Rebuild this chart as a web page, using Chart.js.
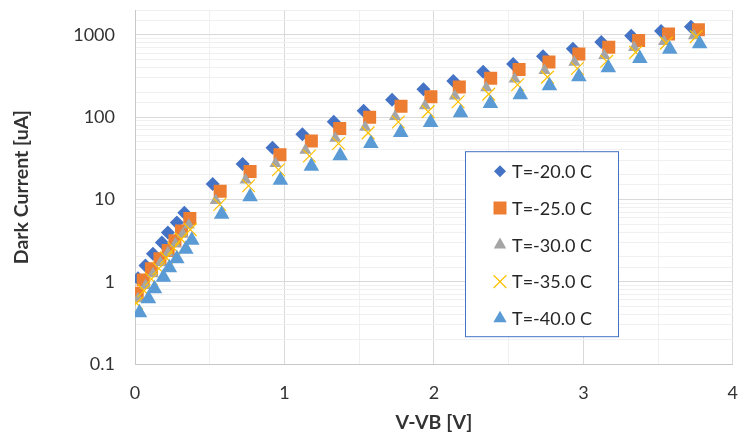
<!DOCTYPE html>
<html>
<head>
<meta charset="utf-8">
<script src="https://cdn.jsdelivr.net/npm/chart.js@4.4.1/dist/chart.umd.min.js"></script>
<style>
  html, body { margin: 0; padding: 0; background: #fff; }
  #wrap { width: 743px; height: 438px; }
</style>
</head>
<body>
<div id="wrap"><canvas id="myChart" width="743" height="438"></canvas></div>
<script>
// dark current vs overvoltage, one series per temperature
const seriesLabels = ["T=-20.0 C", "T=-25.0 C", "T=-30.0 C", "T=-35.0 C", "T=-40.0 C"];

const vbT20 = [0.02, 0.07, 0.12, 0.18, 0.22, 0.28, 0.33,
  0.52, 0.72, 0.92, 1.12, 1.33, 1.53, 1.72, 1.93, 2.13, 2.33, 2.53, 2.73, 2.93, 3.12, 3.32, 3.52, 3.72];
const iT20 = [1.1, 1.58, 2.19, 3.0, 3.98, 5.25, 6.9,
  15.4, 27, 42.6, 62, 88, 120, 163, 219, 275, 358, 445, 550, 680, 820, 980, 1117, 1257];

const vbT25 = [0.015, 0.055, 0.11, 0.167, 0.222, 0.267, 0.311, 0.367,
  0.57, 0.77, 0.97, 1.18, 1.37, 1.57, 1.78, 1.98, 2.17, 2.38, 2.57, 2.77, 2.97, 3.17, 3.37, 3.57, 3.77];
const iT25 = [0.72, 1.05, 1.44, 1.9, 2.4, 3.16, 4.15, 5.87,
  12.6, 21.9, 35, 51.5, 72.8, 100, 136, 177, 233, 297, 380, 470, 585, 710, 855, 1030, 1160];

const vbT30 = [0.02, 0.07, 0.12, 0.17, 0.22, 0.27, 0.32, 0.36,
  0.54, 0.74, 0.94, 1.14, 1.34, 1.54, 1.74, 1.94, 2.14, 2.35, 2.54, 2.74, 2.94, 3.14, 3.34, 3.54, 3.74];
const iT30 = [0.62, 0.9, 1.25, 1.7, 2.25, 2.9, 3.8, 4.9,
  9.7, 17.2, 27.4, 39.7, 55.7, 75.6, 102, 138, 181, 228, 292, 369, 466, 561, 703, 831, 979];

const vbT35 = [0.01, 0.06, 0.11, 0.16, 0.21, 0.26, 0.31, 0.37,
  0.567, 0.76, 0.96, 1.167, 1.362, 1.56, 1.762, 1.962, 2.162, 2.367, 2.56, 2.76, 2.96, 3.156, 3.35, 3.555, 3.755];
const iT35 = [0.55, 0.78, 1.08, 1.45, 1.95, 2.55, 3.3, 4.3,
  8.7, 14.7, 23, 33.8, 48, 64.5, 87.6, 117, 154, 191, 248, 307, 391, 478, 614, 796, 955];

const vbT40 = [0.03, 0.09, 0.13, 0.19, 0.23, 0.28, 0.34, 0.38,
  0.58, 0.77, 0.973, 1.18, 1.373, 1.578, 1.778, 1.978, 2.178, 2.378, 2.578, 2.773, 2.97, 3.167, 3.378, 3.578, 3.778];
const iT40 = [0.42, 0.62, 0.82, 1.13, 1.48, 1.9, 2.48, 3.2,
  6.6, 10.8, 17.1, 25.4, 34.1, 48, 65, 86, 113, 147, 188, 241, 310, 400, 517, 672, 780];

const xTicks = [0, 1, 2, 3, 4];
const yTicks = [0.1, 1, 10, 100, 1000];

const toPoints = (xs, ys) => xs.map((x, i) => ({ x: x, y: ys[i] }));

const FONT = "Lato";
const isDecade = (v) => yTicks.some((t) => Math.abs(v - t) < t * 1e-6);
const legendRadius = [6, 9.2, 7.2, 9, 7.7];

// legend box inside the plot area
const boxLegend = {
  id: "boxLegend",
  afterDatasetsDraw(chart) {
    const ctx = chart.ctx;
    const area = chart.chartArea;
    const left = area.left + 330, top = area.top + 141, w = 153, h = 185;
    ctx.save();
    ctx.fillStyle = "#ffffff";
    ctx.fillRect(left, top, w, h);
    ctx.strokeStyle = "#4472c4";
    ctx.lineWidth = 1;
    ctx.strokeRect(left + 0.5, top + 0.5, w, h);
    ctx.font = "18px " + FONT;
    ctx.textBaseline = "middle";
    chart.data.datasets.forEach((ds, i) => {
      const y = top + 20 + i * 36.8;
      ctx.fillStyle = ds.backgroundColor;
      ctx.strokeStyle = ds.borderColor;
      ctx.lineWidth = ds.borderWidth;
      Chart.helpers.drawPoint(ctx, {
        pointStyle: ds.pointStyle,
        radius: legendRadius[i],
        rotation: 0,
        borderWidth: ds.borderWidth
      }, left + 35, y);
      ctx.fillStyle = "#262626";
      ctx.fillText(ds.label, left + 47, y + 1);
    });
    ctx.restore();
  }
};

const mk = (i, xs, ys, color, style, radius, border) => ({
  label: seriesLabels[i],
  data: toPoints(xs, ys),
  pointStyle: style,
  pointRadius: radius,
  pointHoverRadius: radius,
  backgroundColor: color,
  borderColor: color,
  borderWidth: border,
  order: 5 - i
});

const myChart = new Chart("myChart", {
  type: "scatter",
  data: {
    datasets: [
      mk(0, vbT20, iT20, "#4472c4", "rectRot", 7, 0),
      mk(1, vbT25, iT25, "#ed7d31", "rect", 9.2, 0),
      mk(2, vbT30, iT30, "#a5a5a5", "triangle", 7, 0),
      mk(3, vbT35, iT35, "#ffc000", "crossRot", 9, 1.2),
      mk(4, vbT40, iT40, "#5b9bd5", "triangle", 9, 0)
    ]
  },
  options: {
    responsive: false,
    animation: false,
    layout: { padding: { top: 6, right: 8, left: 0, bottom: 0 } },
    plugins: {
      legend: { display: false },
      tooltip: { enabled: false }
    },
    scales: {
      x: {
        type: "linear",
        min: 0,
        max: 4,
        ticks: {
          stepSize: 0.5,
          padding: 18,
          color: "#333333",
          font: { family: FONT, size: 18 },
          maxRotation: 0,
          callback: (v) => (Number.isInteger(v) ? String(v) : "")
        },
        grid: {
          drawTicks: false,
          color: (c) => (Number.isInteger(c.tick.value) ? "#d9d9d9" : "#f0f0f0")
        },
        border: { color: "#c8c8c8" },
        title: {
          display: true,
          text: "V-VB [V]",
          color: "#333333",
          font: { family: FONT, size: 19.5, weight: "bold" },
          padding: { top: 0, bottom: 3.5 }
        },
        afterFit: (s) => { s.height = 74; s.paddingLeft = 0; s.paddingRight = 0; }
      },
      y: {
        type: "logarithmic",
        min: 0.1,
        max: 2000,
        ticks: {
          padding: 20,
          color: "#333333",
          font: { family: FONT, size: 18 },
          autoSkip: false,
          callback: (v) => (isDecade(v) ? (v < 1 ? v.toFixed(1) : v.toFixed(0)) : "")
        },
        grid: {
          drawTicks: false,
          color: (c) => (isDecade(c.tick.value) ? "#d9d9d9" : "#f0f0f0")
        },
        border: { color: "#c8c8c8" },
        title: {
          display: true,
          text: "Dark Current [uA]",
          color: "#333333",
          font: { family: FONT, size: 19.5, weight: "bold" },
          padding: { top: 10, bottom: 0 }
        },
        afterFit: (s) => { s.width = 135; s.paddingTop = 0; s.paddingBottom = 0; }
      }
    }
  },
  plugins: [boxLegend]
});
</script>
</body>
</html>
